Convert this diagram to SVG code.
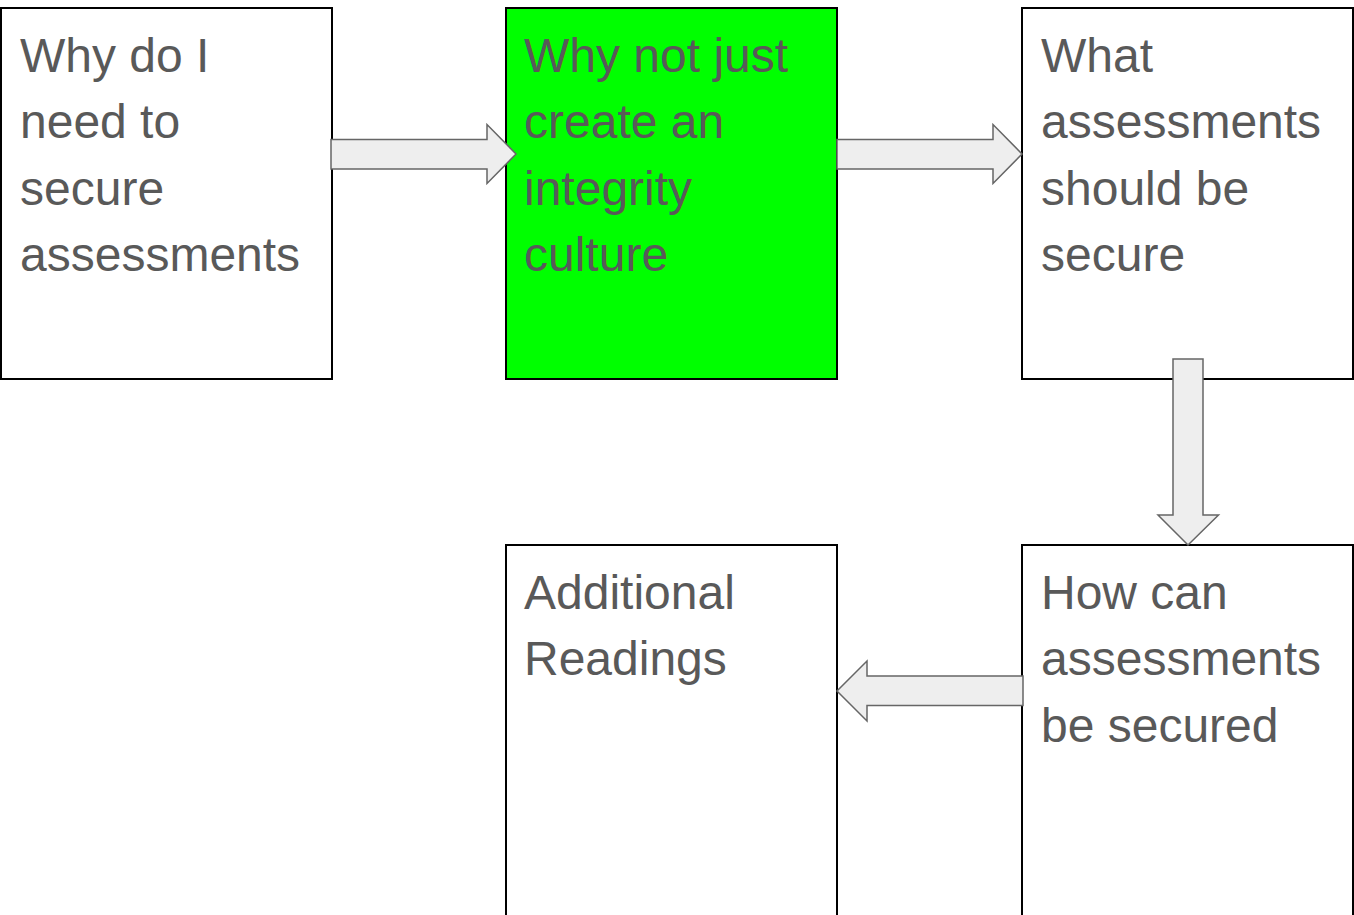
<svg xmlns="http://www.w3.org/2000/svg" width="1354" height="915" viewBox="0 0 1354 915">
<style>
.box{fill:#ffffff;stroke:#000000;stroke-width:2}
.t{font-family:"Liberation Sans",Arial,sans-serif;font-size:48px;fill:#595959}
.arr{fill:#eeeeee;stroke:#666666;stroke-width:1.5;stroke-linejoin:miter}
</style>
<rect width="1354" height="915" fill="#ffffff"/>
<g id="n1"><rect class="box" x="1" y="8" width="331" height="371"/>
<text class="t" x="20" y="72">Why do I</text><text class="t" x="20" y="138">need to</text><text class="t" x="20" y="205">secure</text><text class="t" x="20" y="271">assessments</text></g>
<g id="n2"><rect class="box" x="506" y="8" width="331" height="371" style="fill:#00ff00"/>
<text class="t" x="524" y="72">Why not just</text><text class="t" x="524" y="138">create an</text><text class="t" x="524" y="205">integrity</text><text class="t" x="524" y="271">culture</text></g>
<g id="n3"><rect class="box" x="1022" y="8" width="331" height="371"/>
<text class="t" x="1041" y="72">What</text><text class="t" x="1041" y="138">assessments</text><text class="t" x="1041" y="205">should be</text><text class="t" x="1041" y="271">secure</text></g>
<g id="n4"><rect class="box" x="506" y="545" width="331" height="380"/>
<text class="t" x="524" y="609">Additional</text><text class="t" x="524" y="675">Readings</text></g>
<g id="n5"><rect class="box" x="1022" y="545" width="331" height="380"/>
<text class="t" x="1041" y="609">How can</text><text class="t" x="1041" y="675">assessments</text><text class="t" x="1041" y="742">be secured</text></g>
<g id="connectors">
<polygon class="arr" points="331,139.5 487,139.5 487,124.5 516,154 487,183.5 487,169 331,169"/>
<polygon class="arr" points="837,139.5 993,139.5 993,124.5 1022,154 993,183.5 993,169 837,169"/>
<polygon class="arr" points="1173,359 1203,359 1203,515 1218.5,515 1188,545 1158,515 1173,515"/>
<polygon class="arr" points="1023,676 867,676 867,661 837,691 867,721 867,705.5 1023,705.5"/>
</g>
</svg>
